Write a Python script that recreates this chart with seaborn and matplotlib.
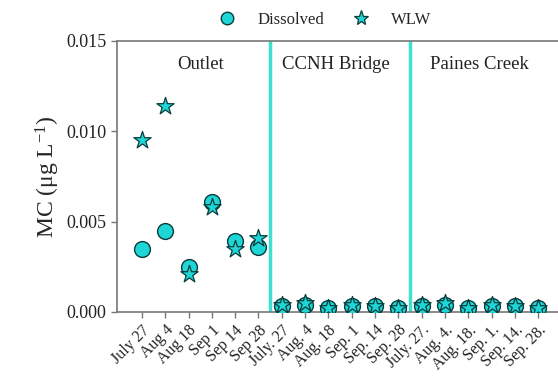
import numpy as np
import pandas as pd
import matplotlib
matplotlib.use("Agg")
import matplotlib.pyplot as plt
import seaborn as sns
from matplotlib.lines import Line2D

dates = ["July 27", "Aug 4", "Aug 18", "Sep 1", "Sep 14", "Sep 28",
         "July. 27", "Aug. 4", "Aug. 18", "Sep. 1", "Sep. 14", "Sep. 28",
         "July. 27.", "Aug. 4.", "Aug. 18.", "Sep. 1.", "Sep. 14.", "Sep. 28."]
sites = ["Outlet", "CCNH Bridge", "Paines Creek"]

dissolved = [0.0035, 0.0045, 0.0025, 0.0061, 0.0039, 0.0036,
             0.0003, 0.0004, 0.0002, 0.0003, 0.0003, 0.0002,
             0.0003, 0.0004, 0.0002, 0.0003, 0.0003, 0.0002]
wlw = [0.0095, 0.0114, 0.0021, 0.0058, 0.0035, 0.0041,
       0.0004, 0.0005, 0.0002, 0.0004, 0.0003, 0.0002,
       0.0004, 0.0005, 0.0002, 0.0004, 0.0003, 0.0002]

sns.set_style("ticks")
plt.rcParams['font.family'] = ['Liberation Serif', 'DejaVu Serif']
plt.rcParams['mathtext.fontset'] = 'custom'
plt.rcParams['mathtext.rm'] = 'Liberation Serif'
plt.rcParams['mathtext.it'] = 'Liberation Serif'

df = pd.DataFrame({"pos": np.arange(len(dates)), "date": dates,
                   "Dissolved": dissolved, "WLW": wlw})

fig = plt.figure(figsize=(5.58, 3.79), dpi=100)
ax = fig.add_axes([0.2097, 0.177, 0.7903, 0.715])

fill = "#1fd6d6"
edge = "#0b3b3b"
sns.scatterplot(data=df, x="pos", y="Dissolved", ax=ax, marker="o", s=130,
                color=fill, edgecolor=edge, linewidth=1.0, zorder=3)
sns.scatterplot(data=df, x="pos", y="WLW", ax=ax, marker="*", s=170,
                color=fill, edgecolor=edge, linewidth=0.9, zorder=4)

for xv in [5.5, 11.5]:
    ax.axvline(xv, color="#40e0d0", lw=2.5, zorder=2)

ax.set_xlim(-1.07, 17.85)
ax.set_ylim(0, 0.015)
ax.set_yticks([0.0, 0.005, 0.010, 0.015])
ax.set_yticklabels(["0.000", "0.005", "0.010", "0.015"], fontsize=13)
ax.set_xticks(np.arange(len(dates)))
ax.set_xticklabels(dates, rotation=45, ha="right", rotation_mode="anchor",
                   fontsize=11.5)
ax.set_xlabel("")
ax.set_ylabel(r"MC ($\mathregular{\mu}$g L$^{\mathregular{-1}}$)", fontsize=17)
ax.yaxis.set_label_coords(-0.125, 0.5)

for s in ["top", "left", "bottom"]:
    ax.spines[s].set_color("#777777")
    ax.spines[s].set_linewidth(1.2)
ax.spines["right"].set_visible(False)
ax.tick_params(axis="both", colors="#777777", labelcolor="#222222",
               length=4, width=1)

label_x = [2.5, 8.3, 14.5]
for lx, name in zip(label_x, sites):
    ax.text(lx, 0.0137, name, ha="center", va="center", fontsize=13.5,
            color="#222222")

handles = [Line2D([], [], marker="o", ls="", markersize=9,
                  markerfacecolor=fill, markeredgecolor=edge, mew=1.0),
           Line2D([], [], marker="*", ls="", markersize=11,
                  markerfacecolor=fill, markeredgecolor=edge, mew=0.9)]
fig.legend(handles, ["Dissolved", "WLW"], loc="center",
           bbox_to_anchor=(0.575, 0.947), ncol=2, frameon=False,
           fontsize=12, handletextpad=0.8, columnspacing=1.2)

fig.savefig("out.png", dpi=100)
